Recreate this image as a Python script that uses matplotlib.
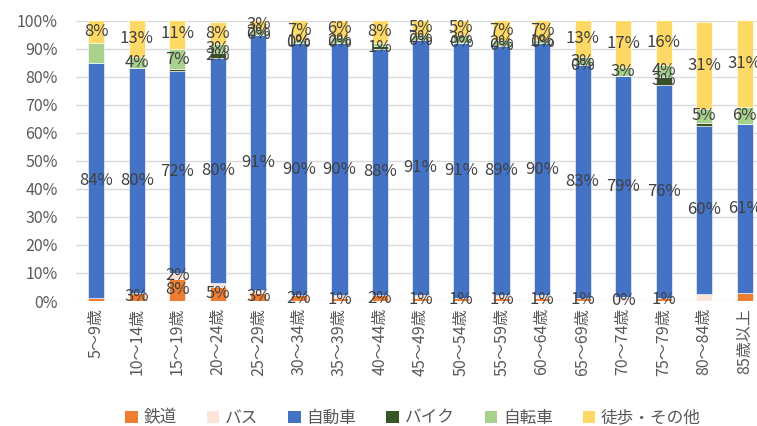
import matplotlib
matplotlib.use("Agg")
import matplotlib.pyplot as plt
from matplotlib.patches import Patch
import numpy as np

plt.rcParams['font.family'] = ['Noto Sans CJK JP', 'DejaVu Sans']

categories = ["5～9歳", "10～14歳", "15～19歳", "20～24歳", "25～29歳", "30～34歳",
              "35～39歳", "40～44歳", "45～49歳", "50～54歳", "55～59歳", "60～64歳",
              "65～69歳", "70～74歳", "75～79歳", "80～84歳", "85歳以上"]

series_names = ["鉄道", "バス", "自動車", "バイク", "自転車", "徒歩・その他"]
colors = ["#ED7D31", "#FBE5D6", "#4472C4", "#375623", "#A9D18E", "#FFD966"]

rail    = [1, 3, 8, 5, 3, 2, 1, 2, 1, 1, 1, 1, 1, 0.3, 1, 0, 3]
bus     = [0, 0, 2, 1.5, 1, 0, 1, 0, 1, 0, 1, 1, 0, 1, 0, 2.5, 0]
car     = [84, 80, 72, 80, 91, 90, 90, 88, 91, 91, 89, 90, 83, 79, 76, 60, 60]
bike    = [0, 0, 0.7, 2, 0, 0, 0, 1, 0, 0, 0, 0, 0, 0, 3, 1, 0]
bicycle = [7, 4, 7, 3, 2, 1, 2, 1, 2, 3, 2, 1, 3, 3, 4, 5, 6]
walk    = [8, 13, 11, 8, 3, 7, 6, 8, 5, 5, 7, 7, 13, 17, 16, 31, 31]

rail_lbl    = [None, 3, 8, 5, 3, 2, 1, 2, 1, 1, 1, 1, 1, 0, 1, None, None]
bus_lbl     = [None, None, 2, None, None, None, None, None, None, None, None, None, None, None, None, None, None]
car_lbl     = [84, 80, 72, 80, 91, 90, 90, 88, 91, 91, 89, 90, 83, 79, 76, 60, 61]
bike_lbl    = [None, None, None, 2, 0, 0, 0, 1, 0, 0, 0, 0, 0, None, 3, None, None]
bicycle_lbl = [None, 4, 7, 3, 2, 1, 2, None, 2, 3, 2, 1, 3, 3, 4, 5, 6]
walk_lbl    = [8, 13, 11, 8, 3, 7, 6, 8, 5, 5, 7, 7, 13, 17, 16, 31, 31]

series = [rail, bus, car, bike, bicycle, walk]
labels = [rail_lbl, bus_lbl, car_lbl, bike_lbl, bicycle_lbl, walk_lbl]

fig = plt.figure(figsize=(7.57, 4.26), dpi=100)
ax = fig.add_axes([76/757, 125/426, 689/757, 280.5/426])

x = np.arange(len(categories))
bottom = np.zeros(len(categories))
for vals, lbls, col in zip(series, labels, colors):
    v = np.array(vals, dtype=float)
    ax.bar(x, v, 0.4, bottom=bottom, color=col, edgecolor='white', linewidth=0.4, zorder=2)
    for i in range(len(x)):
        if lbls[i] is not None:
            ax.text(x[i], bottom[i] + v[i] / 2, f"{lbls[i]}%", ha='center', va='center',
                    fontsize=12, color='#404040', zorder=3)
    bottom += v

ax.set_xlim(-0.5, len(categories) - 0.5)
ax.set_ylim(0, 100)
ax.set_yticks(np.arange(0, 101, 10))
ax.set_yticklabels([f"{t}%" for t in range(0, 101, 10)])
ax.set_xticks(x)
ax.set_xticklabels(categories, rotation=90)
ax.tick_params(axis='both', length=0, labelsize=11.5, labelcolor='#595959')
ax.tick_params(axis='y', pad=13)
ax.tick_params(axis='x', pad=5)
ax.grid(axis='y', color='#D9D9D9', linewidth=1, zorder=0)
ax.set_axisbelow(True)
for s in ax.spines.values():
    s.set_visible(False)

handles = [Patch(facecolor=c, edgecolor='none', label=n) for c, n in zip(colors, series_names)]
fig.legend(handles=handles, loc='center', bbox_to_anchor=(413/757, 1 - 418/426), ncol=6,
           frameon=False, fontsize=12, labelcolor='#595959', handlelength=0.75,
           handleheight=0.75, handletextpad=0.35, columnspacing=1.8)

fig.savefig("out.png", dpi=100)
